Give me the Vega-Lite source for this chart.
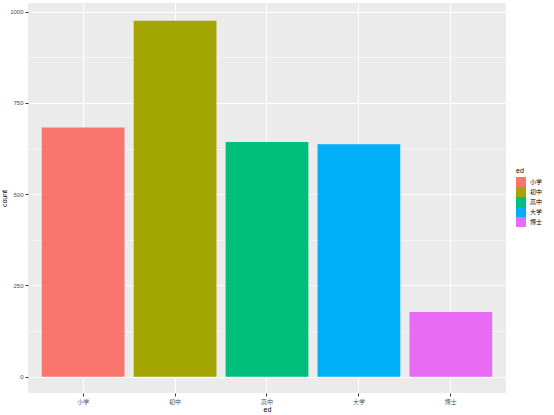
{
  "$schema": "https://vega.github.io/schema/vega-lite/v6.json",
  "width": 478,
  "height": 390,
  "autosize": {"type": "none"},
  "padding": {"left": 28, "top": 3, "right": 48, "bottom": 22},
  "background": "white",
  "config": {
    "view": {"fill": "#EBEBEB", "stroke": null},
    "font": "Liberation Sans"
  },
  "data": {
    "values": [
      {"ed": "小学", "count": 683},
      {"ed": "初中", "count": 975},
      {"ed": "高中", "count": 643},
      {"ed": "大学", "count": 637},
      {"ed": "博士", "count": 177}
    ]
  },
  "mark": {"type": "bar", "stroke": null},
  "encoding": {
    "x": {
      "field": "ed",
      "type": "nominal",
      "sort": ["小学", "初中", "高中", "大学", "博士"],
      "scale": {"paddingInner": 0.1, "paddingOuter": 0.15},
      "axis": {
        "title": "ed",
        "labelAngle": 0,
        "bandPosition": 0.5,
        "grid": true,
        "gridColor": "white",
        "gridWidth": 1.1,
        "domain": false,
        "tickColor": "#333333",
        "tickSize": 3,
        "labelFont": "Noto Sans CJK SC",
        "labelFontSize": 6,
        "labelColor": "#4D4D4D",
        "labelPadding": 2,
        "titleFontSize": 7,
        "titleFontWeight": "normal",
        "titleColor": "black",
        "titlePadding": 1
      }
    },
    "y": {
      "field": "count",
      "type": "quantitative",
      "scale": {"domain": [-44.7, 1023.8], "nice": false, "zero": false},
      "axis": {
        "title": "count",
        "values": [0, 125, 250, 375, 500, 625, 750, 875, 1000],
        "labelExpr": "datum.value % 250 === 0 ? datum.label : ''",
        "format": "d",
        "grid": true,
        "gridColor": "white",
        "gridWidth": {"condition": {"test": "datum.value % 250 === 0", "value": 1.1}, "value": 0.5},
        "tickSize": {"condition": {"test": "datum.value % 250 === 0", "value": 3}, "value": 0},
        "tickColor": "#333333",
        "domain": false,
        "labelFontSize": 6,
        "labelColor": "#4D4D4D",
        "labelPadding": 2,
        "titleFontSize": 7,
        "titleFontWeight": "normal",
        "titleColor": "black",
        "titlePadding": 2
      }
    },
    "color": {
      "field": "ed",
      "type": "nominal",
      "sort": ["小学", "初中", "高中", "大学", "博士"],
      "scale": {
        "domain": ["小学", "初中", "高中", "大学", "博士"],
        "range": ["#F8766D", "#A3A500", "#00BF7D", "#00B0F6", "#E76BF3"]
      },
      "legend": {
        "title": "ed",
        "orient": "none",
        "legendX": 488,
        "legendY": 164,
        "symbolType": "square",
        "symbolSize": 100,
        "symbolStrokeWidth": 0,
        "symbolOpacity": 1,
        "rowPadding": 0,
        "labelFont": "Noto Sans CJK SC",
        "labelFontSize": 6,
        "labelColor": "black",
        "labelOffset": 4,
        "titleFontSize": 7,
        "titleFontWeight": "normal",
        "titlePadding": 3
      }
    }
  }
}
